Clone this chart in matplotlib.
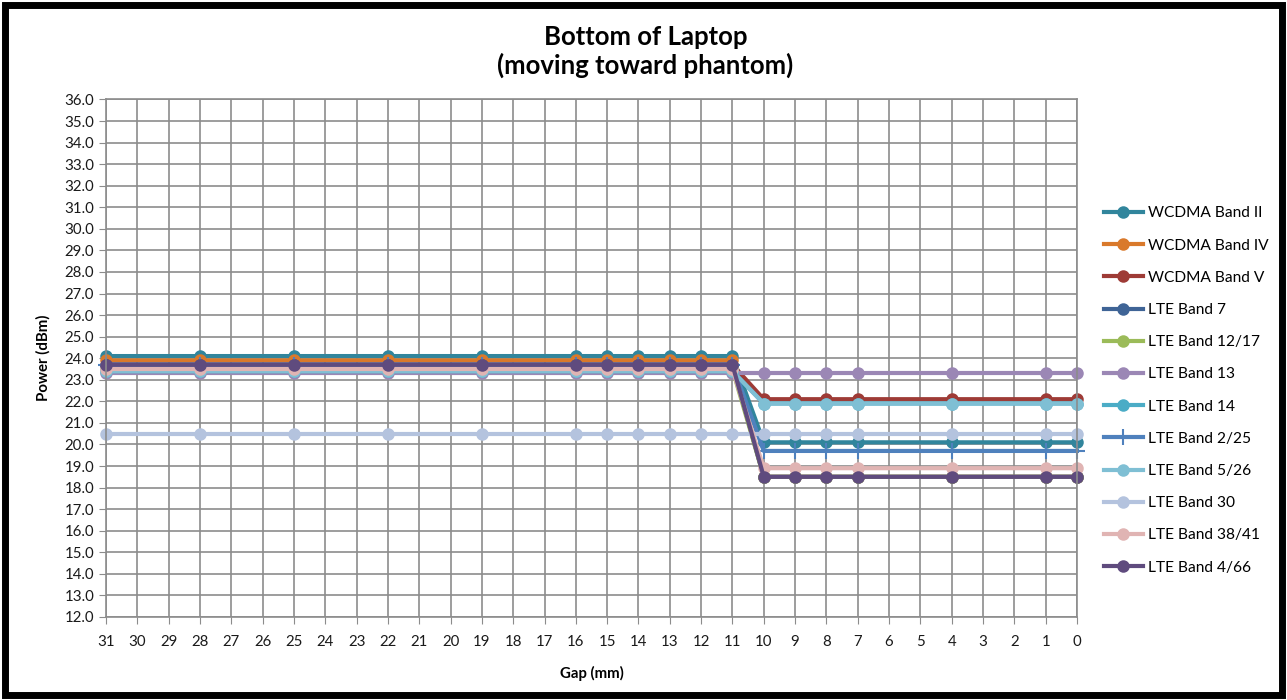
import matplotlib.pyplot as plt
from matplotlib import patches
import numpy as np

plt.rcParams['font.family'] = ['Lato', 'DejaVu Sans']

# Gap positions (mm) where measurements were taken
gap = [31, 28, 25, 22, 19, 16, 15, 14, 13, 12, 11, 10, 9, 8, 7, 4, 1, 0]

# power before (gap >= 11) and after (gap <= 10) the back-off
bands = ['WCDMA Band II', 'WCDMA Band IV', 'WCDMA Band V', 'LTE Band 7',
         'LTE Band 12/17', 'LTE Band 13', 'LTE Band 14', 'LTE Band 2/25',
         'LTE Band 5/26', 'LTE Band 30', 'LTE Band 38/41', 'LTE Band 4/66']
far_power = [24.1, 23.9, 23.7, 23.7, 23.5, 23.3, 23.4, 23.7, 23.4, 20.5, 23.5, 23.7]
near_power = [20.1, 18.5, 22.1, 18.5, 18.5, 23.3, 21.9, 19.7, 21.9, 20.5, 18.9, 18.5]

colors = ['#31859C', '#D9792B', '#9E3B36', '#3F6496', '#9BBB59', '#9B87B5',
          '#4BACC6', '#4F81BD', '#7FBFD4', '#B4C3DE', '#E0B4B3', '#5F4B7E']

fig = plt.figure(figsize=(12.87, 7.0), dpi=100)
ax = fig.add_axes([0.0824, 0.1186, 0.7544, 0.7393])

for name, far, near, c in zip(bands, far_power, near_power, colors):
    vals = [far if g >= 11 else near for g in gap]
    marker = '+' if name == 'LTE Band 2/25' else 'o'
    ms = 12 if marker == '+' else 7.5
    ax.plot(gap, vals, color=c, lw=3, marker=marker, ms=ms, mew=1.5,
            mfc=c, mec=c, label=name, clip_on=False)

ax.set_xlim(31, 0)
ax.set_ylim(12, 36)
ax.set_xticks(np.arange(0, 32))
ax.set_yticks(np.arange(12, 36.5, 1))
ax.set_yticklabels(['%.1f' % v for v in np.arange(12, 36.5, 1)])
ax.grid(True, color='#8C8C8C', lw=1.2)
ax.set_axisbelow(True)
for s in ax.spines.values():
    s.set_color('#8C8C8C')
    s.set_linewidth(1.2)
ax.tick_params(axis='both', direction='out', length=5, color='#8C8C8C',
               labelsize=10.8, labelcolor='#1a1a1a')
ax.tick_params(axis='x', pad=8)

ax.set_xlabel('Gap (mm)', fontsize=10.8, fontweight='bold', labelpad=12)
ax.set_ylabel('Power (dBm)', fontsize=10.8, fontweight='bold', labelpad=10)

fig.text(0.5015, 0.947, 'Bottom of Laptop', ha='center', va='center',
         fontsize=18.5, fontweight='bold')
fig.text(0.5015, 0.906, '(moving toward phantom)', ha='center', va='center',
         fontsize=18.5, fontweight='bold')

fig.legend(loc='upper left', bbox_to_anchor=(0.853, 0.714), frameon=False,
           fontsize=11.2, handlelength=2.5, labelspacing=1.17,
           handletextpad=0.3, borderaxespad=0)

# black frame around the whole chart
fig.patches.append(patches.Rectangle((0.004, 0.007), 0.992, 0.986,
                                     transform=fig.transFigure, fill=False,
                                     ec='black', lw=5))

fig.savefig('out.png', dpi=100, facecolor='white')
